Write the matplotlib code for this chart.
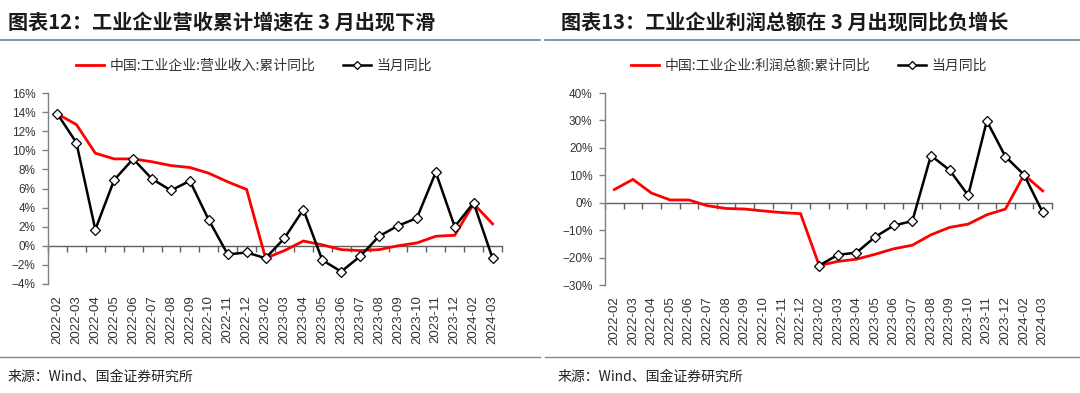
import numpy as np
import matplotlib
matplotlib.use("Agg")
import matplotlib.pyplot as plt
from matplotlib import font_manager
from matplotlib.lines import Line2D

names = {f.name for f in font_manager.fontManager.ttflist}
NARROW = "Liberation Sans Narrow" if "Liberation Sans Narrow" in names else "Liberation Sans"
CJK = ["Noto Sans CJK SC", "DejaVu Sans"]
plt.rcParams["font.family"] = ["Liberation Sans", "Noto Sans CJK SC", "DejaVu Sans"]
plt.rcParams["axes.unicode_minus"] = True

# ---------------- data ----------------
months = ["2022-02", "2022-03", "2022-04", "2022-05", "2022-06", "2022-07", "2022-08",
          "2022-09", "2022-10", "2022-11", "2022-12", "2023-02", "2023-03", "2023-04",
          "2023-05", "2023-06", "2023-07", "2023-08", "2023-09", "2023-10", "2023-11",
          "2023-12", "2024-02", "2024-03"]

rev_cum = [13.8, 12.7, 9.7, 9.1, 9.1, 8.8, 8.4, 8.2, 7.6, 6.7, 5.9, -1.3, -0.5, 0.5,
           0.1, -0.4, -0.5, -0.4, 0.0, 0.3, 1.0, 1.1, 4.4, 2.3]
rev_month = [13.8, 10.8, 1.7, 6.9, 9.1, 7.0, 5.8, 6.8, 2.7, -0.9, -0.7, -1.3, 0.8, 3.8,
             -1.5, -2.7, -1.1, 1.0, 2.1, 2.9, 7.7, 2.0, 4.5, -1.3]

profit_cum = [4.8, 8.5, 3.5, 1.0, 1.0, -1.1, -2.1, -2.3, -3.0, -3.6, -4.0, -22.9, -21.4,
              -20.6, -18.8, -16.8, -15.5, -11.7, -9.0, -7.8, -4.4, -2.3, 10.2, 4.3]
profit_month = [None] * 11 + [-22.9, -19.0, -18.2, -12.5, -8.3, -6.7, 17.2, 11.9, 2.7,
                              29.8, 16.8, 10.2, -3.5]

titles = ["图表12：工业企业营收累计增速在 3 月出现下滑",
          "图表13：工业企业利润总额在 3 月出现同比负增长"]
legend_cum = ["中国:工业企业:营业收入:累计同比", "中国:工业企业:利润总额:累计同比"]
legend_month = "当月同比"
source = "来源：Wind、国金证券研究所"
yticks_list = [list(range(-4, 17, 2)), list(range(-30, 41, 10))]

# ---------------- figure ----------------
W, H = 1080, 393
fig = plt.figure(figsize=(W / 100, H / 100), dpi=100)

RED = "#FF0000"
SEP = "#6E8FA8"

panels = [
    dict(rect=(48, 93, 502, 284), cum=rev_cum, mon=rev_month, x0=0, x1=540,
         title_x=8, src_x=8, leg_c=254),
    dict(rect=(605, 93, 1052, 285), cum=profit_cum, mon=profit_month, x0=545, x1=1080,
         title_x=561, src_x=558, leg_c=809),
]

def fx(px):
    return px / W

def fy(py):
    return 1 - py / H

for i, p in enumerate(panels):
    l, t, r, b = p["rect"]
    ax = fig.add_axes([fx(l), fy(b), fx(r) - fx(l), fy(t) - fy(b)])
    n = len(months)
    x = np.arange(n)
    yt = yticks_list[i]
    ymin, ymax = yt[0], yt[-1]

    ax.plot(x, p["cum"], color=RED, lw=2.0, zorder=3, solid_joinstyle="miter")
    mon = np.array([np.nan if v is None else v for v in p["mon"]], dtype=float)
    ax.plot(x, mon, color="black", lw=1.8, marker="D", ms=5.5, mfc="white", mec="black",
            mew=0.9, zorder=4)

    ax.set_xlim(-0.5, n - 0.5)
    ax.set_ylim(ymin, ymax)
    ax.set_yticks(yt)
    ax.set_yticklabels([f"{v}%".replace("-", "\u2212") for v in yt])
    for s in ["top", "right", "bottom"]:
        ax.spines[s].set_visible(False)
    ax.spines["left"].set_color("#808080")
    ax.spines["left"].set_linewidth(1.0)
    ax.tick_params(axis="y", direction="out", length=4, width=1.0, color="#808080",
                   labelsize=8.5, labelcolor="#333333", pad=5)
    for lab in ax.get_yticklabels():
        lab.set_fontfamily("Liberation Sans")

    ax.set_xticks(x)
    ax.set_xticklabels(months, rotation=90, fontsize=9.5, color="#333333",
                       fontfamily=NARROW)
    ax.tick_params(axis="x", length=0, pad=8)

    # zero axis with boundary ticks
    frac = (0 - ymin) / (ymax - ymin)
    sec = ax.secondary_xaxis(frac)
    sec.set_xticks(np.arange(-0.5, n, 1.0))
    sec.set_xticklabels([])
    sec.spines["bottom"].set_color("#606060")
    sec.spines["bottom"].set_linewidth(1.0)
    sec.tick_params(axis="x", direction="out", length=4, width=1.0, color="#606060")
    ax.patch.set_visible(False)

    # title
    fig.text(fx(p["title_x"]), fy(22), titles[i], fontsize=14.5, fontweight="bold",
             fontfamily=CJK, color="#1a1a1a", va="center", ha="left")
    # separators
    fig.add_artist(Line2D([fx(p["x0"]), fx(p["x1"])], [fy(40), fy(40)], color=SEP,
                          lw=1.3))
    fig.add_artist(Line2D([fx(p["x0"]), fx(p["x1"])], [fy(357), fy(357)], color=SEP,
                          lw=1.0))
    # source
    fig.text(fx(p["src_x"]), fy(377), source, fontsize=10, fontfamily=CJK,
             color="#222222", va="center", ha="left")

    # legend
    h1 = Line2D([], [], color=RED, lw=2.0)
    h2 = Line2D([], [], color="black", lw=1.8, marker="D", ms=4, mfc="white",
                mec="black", mew=0.9)
    fig.legend([h1, h2], [legend_cum[i], legend_month], loc="center",
               bbox_to_anchor=(fx(p["leg_c"]), fy(66)), ncol=2, frameon=False,
               prop={"family": CJK, "size": 10}, handlelength=2.0, handletextpad=0.4,
               columnspacing=2.0, labelcolor="#333333")

fig.savefig("out.png", dpi=100)
